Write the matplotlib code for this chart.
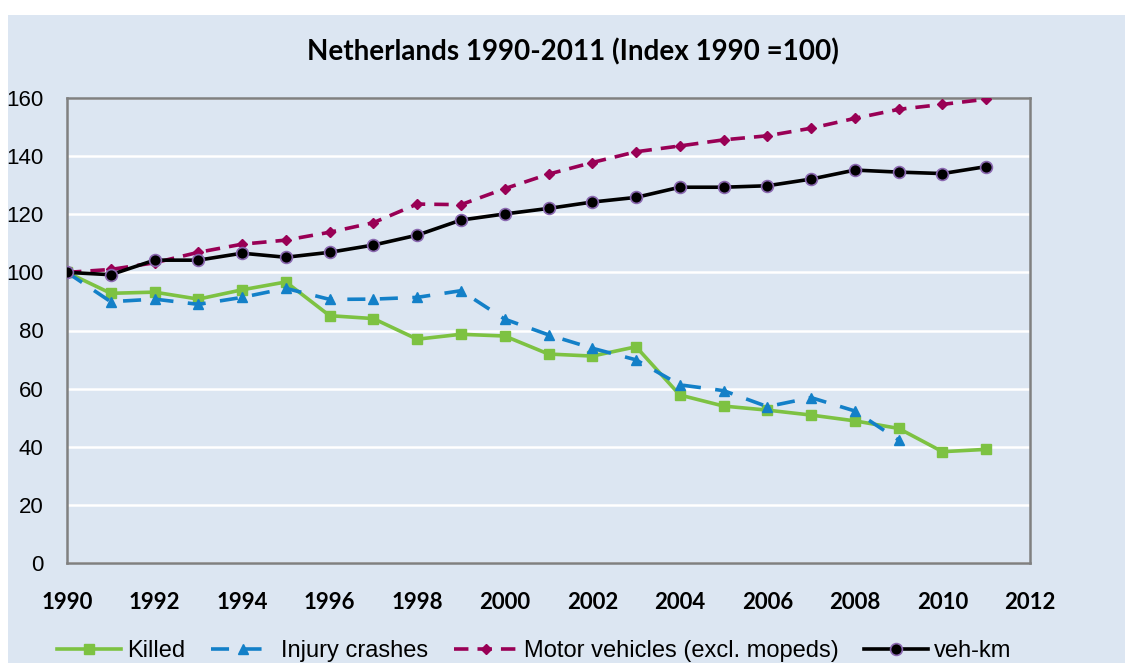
import matplotlib.pyplot as plt
from matplotlib.patches import Rectangle

plt.rcParams["font.family"] = ['Liberation Sans', 'DejaVu Sans']

years = list(range(1990, 2012))
killed = [100, 92.8, 93.2, 90.8, 94.0, 96.7, 85.1, 84.1, 77.0, 78.7, 78.1,
          71.9, 71.2, 74.4, 57.8, 54.0, 52.6, 50.9, 48.9, 46.3, 38.3, 39.1]
injury = [100, 89.9, 90.8, 89.0, 91.4, 94.5, 90.7, 90.8, 91.4, 93.7, 83.9,
          78.5, 73.9, 69.9, 61.3, 59.3, 53.8, 56.9, 52.3, 42.3]
motor = [100, 101.0, 103.3, 106.9, 109.7, 111.1, 113.8, 117.1, 123.5, 123.3, 128.8,
         133.8, 137.8, 141.5, 143.5, 145.6, 147.0, 149.6, 153.0, 156.1, 157.8, 159.6]
vehkm = [100, 99.2, 104.2, 104.2, 106.6, 105.2, 106.9, 109.4, 112.8, 118.0, 120.1,
         122.0, 124.2, 125.8, 129.3, 129.3, 129.8, 132.1, 135.2, 134.5, 134.0, 136.4]

bg = '#dce6f2'
fig = plt.figure(figsize=(11.25, 6.63), dpi=100, facecolor='white')
# light blue panel, leaving a white strip on the left and top
fig.patches.append(Rectangle((8/1125, 0), 1, 1 - 15/663, transform=fig.transFigure,
                             facecolor=bg, edgecolor='none', zorder=-10))

ax = fig.add_axes([67/1125, 100/663, 963/1125, 465/663])
ax.set_facecolor(bg)

ax.plot(years, killed, color='#7dc242', lw=2.6, marker='s', ms=7, label='Killed', zorder=3)
ax.plot(years[:len(injury)], injury, color='#1380c8', lw=2.6, ls=(0, (5, 4)), marker='^', ms=7,
        label='Injury crashes', zorder=3)
ax.plot(years, motor, color='#990055', lw=2.6, ls=(0, (4, 2.5)), marker='D', ms=5.5,
        label='Motor vehicles (excl. mopeds)', zorder=3)
ax.plot(years, vehkm, color='black', lw=2.6, marker='o', ms=8.5, mec='#8a68b0', mew=1.2,
        label='veh-km', zorder=4)

ax.set_xlim(1990, 2012)
ax.set_ylim(0, 160)
ax.set_xticks(range(1990, 2013, 2))
ax.set_yticks(range(0, 161, 20))
ax.grid(axis='y', color='white', lw=1.8)
ax.set_axisbelow(True)
for s in ax.spines.values():
    s.set_color('#808080')
    s.set_linewidth(1.8)

ax.tick_params(axis='both', length=0)
ax.tick_params(axis='y', pad=17, labelsize=16)
ax.tick_params(axis='x', pad=21, labelsize=16)
for t in ax.get_xticklabels():
    t.set_fontfamily('Lato')
    t.set_fontweight('bold')

fig.text(573/1125, 1 - 52/663, 'Netherlands 1990-2011 (Index 1990 =100)', ha='center', va='center',
         fontsize=20, fontweight='bold', family='Lato')

fig.legend(loc='center', bbox_to_anchor=(0.475, 12/663), ncol=4, frameon=False, fontsize=17,
           handlelength=2.7, handletextpad=0.25, columnspacing=1.1)

fig.savefig('out.png', dpi=100, facecolor='white')
